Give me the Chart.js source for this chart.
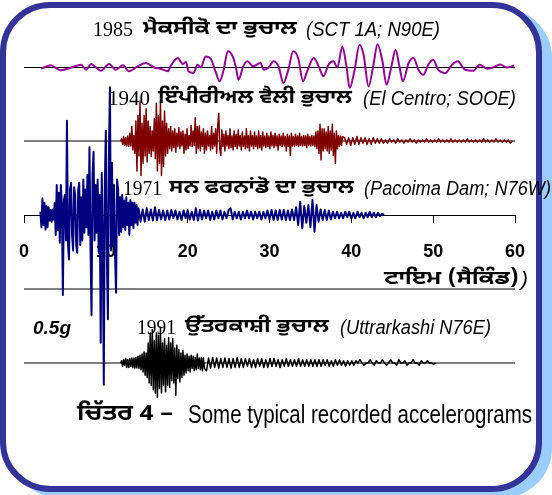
<!DOCTYPE html>
<html>
<head>
<meta charset="utf-8">
<script src="https://cdn.jsdelivr.net/npm/chart.js@4.4.1/dist/chart.umd.min.js"></script>
<style>
html, body { margin: 0; padding: 0; background: #fff; }
#wrap { position: relative; width: 552px; height: 495px; overflow: hidden; background: #fff; }
#frame { position: absolute; left: 0; top: 2px; width: 530px; height: 478px; border: 6px solid #333399;
  border-radius: 50px; box-shadow: 10px 6px 0 #99ccff; background: #fff; }
#myChart { position: absolute; left: 0; top: 0; }
.t { position: absolute; white-space: nowrap; transform-origin: 0 0; color: #000; line-height: 1; }
.num { font-family: "Liberation Serif", "Times New Roman", serif; }
.gur { font-family: "Noto Sans Gurmukhi", "Lohit Gurmukhi", "Raavi", sans-serif; font-weight: bold; }
.lat { font-family: "Liberation Sans", Arial, sans-serif; font-style: italic; }
.cap { font-family: "Liberation Sans", Arial, sans-serif; }
.scale { font-family: "Liberation Sans", Arial, sans-serif; font-style: italic; font-weight: bold; }
</style>
</head>
<body>
<div id="wrap">
  <div id="frame"></div>
  <canvas id="myChart" width="552" height="495"></canvas>

  <div class="t num" style="left:93px;top:19px;font-size:20px" data-w="40">1985</div>
  <div class="t gur" style="left:143px;top:20px;font-size:19px" data-w="154">ਮੈਕਸੀਕੋ ਦਾ ਭੁਚਾਲ</div>
  <div class="t lat" style="left:306px;top:19px;font-size:20px" data-w="134">(SCT 1A; N90E)</div>

  <div class="t num" style="left:108px;top:88px;font-size:20px" data-w="42">1940</div>
  <div class="t gur" style="left:158px;top:89px;font-size:19px" data-w="194">ਇੰਪੀਰੀਅਲ ਵੈਲੀ ਭੁਚਾਲ</div>
  <div class="t lat" style="left:363px;top:88px;font-size:20px" data-w="153">(El Centro; SOOE)</div>

  <div class="t num" style="left:123px;top:178px;font-size:20px" data-w="39">1971</div>
  <div class="t gur" style="left:169px;top:179px;font-size:19px" data-w="185">ਸਨ ਫਰਨਾਂਡੋ ਦਾ ਭੁਚਾਲ</div>
  <div class="t lat" style="left:364px;top:178px;font-size:20px" data-w="187">(Pacoima Dam; N76W)</div>

  <div class="t gur" style="left:384px;top:270px;font-size:19px" data-w="135">ਟਾਇਮ (ਸੈਕਿੰਡ)</div>
  <div class="t lat" style="left:521px;top:269px;font-size:20px" data-w="7">)</div>

  <div class="t scale" style="left:33px;top:319px;font-size:18px" data-w="38">0.5g</div>

  <div class="t num" style="left:137px;top:317px;font-size:20px" data-w="39">1991</div>
  <div class="t gur" style="left:185px;top:318px;font-size:19px" data-w="144">ਉੱਤਰਕਾਸ਼ੀ ਭੁਚਾਲ</div>
  <div class="t lat" style="left:340px;top:317px;font-size:20px" data-w="151">(Uttrarkashi N76E)</div>

  <div class="t gur" style="left:77px;top:404px;font-size:22px" data-w="96">ਚਿੱਤਰ 4 –</div>
  <div class="t cap" style="left:188px;top:402px;font-size:25px" data-w="344">Some typical recorded accelerograms</div>
</div>
<script>
// values: acceleration in g, time in seconds
const mexicoTime = [2.1, 3.3, 3.9, 4.5, 5.7, 7.0, 7.6, 8.2, 8.8, 9.4,
  10.4, 11.2, 12.1, 12.8, 13.9, 14.9, 15.9, 16.7, 17.6, 17.9,
  18.8, 19.4, 19.8, 20.1, 20.7, 21.2, 21.6, 22.2, 22.8, 23.4,
  23.9, 24.4, 24.9, 25.5, 25.9, 26.2, 26.8, 27.3, 28.0, 28.9,
  29.3, 29.9, 30.5, 31.1, 31.7, 32.3, 32.9, 33.5, 34.1, 34.6,
  35.4, 36.0, 36.6, 37.2, 37.8, 38.3, 38.9, 39.4, 39.8, 40.4,
  41.0, 41.5, 42.1, 42.7, 43.2, 43.8, 44.3, 44.9, 45.4, 45.9,
  46.3, 47.0, 47.6, 48.2, 48.8, 49.4, 50.0, 50.6, 51.5, 52.3,
  53.0, 53.9, 54.9, 55.7, 56.6, 57.3, 58.2, 59.0, 59.9];
const mexicoAccel = [-0.01, 0.02, -0.005, -0.025, -0.002, 0.025, -0.02, 0.032, 0, -0.029,
  0.032, -0.02, 0.02, -0.034, 0.011, 0.041, 0, -0.011, -0.034, 0.011,
  0.086, 0.032, 0.05, -0.034, -0.05, 0.025, 0, 0.10, 0.081, -0.034,
  -0.124, -0.02, 0.146, 0.10, 0, -0.11, 0.011, 0.056, 0.011, 0.041,
  -0.02, 0, 0.056, 0.011, -0.14, -0.02, 0.146, 0.086, -0.124, -0.034,
  0.086, 0.011, -0.079, 0.025, 0.056, 0, 0.19, 0.011, -0.185, -0.02,
  0.205, 0.115, -0.17, 0.025, 0.21, 0.056, -0.155, 0.011, 0.16, 0,
  -0.124, 0.041, 0.086, -0.02, -0.065, 0.025, 0.07, -0.02, -0.05, 0.025,
  0.056, -0.02, -0.029, 0.025, -0.011, 0, 0.027, 0, 0.018];

// the other records: busy parts read every 0.125 s, quiet parts every 0.25 s
const elCentroStrongStart = 11.8, elCentroStrongStep = 0.125;
const elCentroStrong = [0, 0.02, -0.03, 0.04, -0.04, 0.03, -0.045, 0.045, -0.05, 0.07,
  -0.045, 0.13, -0.08, 0.05, -0.11, 0.18, -0.27, 0.23, -0.135, 0.36,
  -0.31, 0.16, -0.2, 0.23, -0.135, 0.29, -0.19, 0.18, -0.11, 0.13,
  -0.14, 0.09, -0.09, 0.2, -0.16, 0.34, -0.27, 0.23, -0.2, 0.36,
  -0.31, 0.18, -0.23, 0.27, -0.135, 0.16, -0.11, 0.11, -0.07, 0.13,
  -0.09, 0.09, -0.06, 0.11, -0.1, 0.07, -0.05, 0.12, -0.07, 0.08,
  -0.045, 0.09, -0.11, 0.06, -0.08, 0.11, -0.07, 0.05, -0.045, 0.14,
  -0.05, 0.09, -0.04, 0.21, -0.11, 0.13, -0.07, 0.135, -0.09, 0.08,
  -0.05, 0.11, -0.11, 0.07, -0.08, 0.09, -0.045, 0.05, -0.08, 0.13,
  -0.07, 0.07, -0.045, 0.11, -0.11, 0.135, 0.25, -0.07, -0.13];
const elCentroMidStart = 24.175, elCentroMidStep = 0.125;
const elCentroMid = [0.1, -0.05, 0.06, -0.09, 0.09, -0.045, 0.05, -0.07, 0.11, -0.06,
  0.045, -0.08, 0.09, -0.05, 0.06, -0.07, 0.1, -0.045, 0.05, -0.08,
  0.08, -0.05, 0.045, -0.07, 0.11, -0.06, 0.05, -0.09, 0.09, -0.045,
  0.05, -0.07, 0.08, -0.05, 0.045, -0.07, 0.09, -0.06, 0.05, -0.08,
  0.08, -0.045, 0.045, -0.06, 0.07, -0.05, 0.045, -0.07, 0.08, -0.045,
  0.05, -0.06, 0.07, -0.045, 0.045, -0.08, 0.06, -0.04, 0.045, -0.05,
  0.07, -0.045, 0.04, -0.09, 0.06, -0.05, 0.045, -0.13, 0.07, -0.045,
  0.04, -0.05, 0.06, -0.04, 0.045, -0.05, 0.07, -0.04, 0.04, -0.045,
  0.05, -0.04, 0.045, -0.06, 0.06, -0.04, 0.04, -0.045, 0.05, -0.04,
  0.045, -0.05, 0.08, -0.07, 0.09, -0.11, 0.15, -0.17, 0.11, -0.09,
  0.11, -0.07, 0.08, -0.09, 0.13, -0.11, 0.09, -0.08, 0.15, -0.13,
  0.07, -0.2, 0.09, -0.07, 0.05, -0.05, 0.045, -0.04, 0.04];
const elCentroTailStart = 39.175, elCentroTailStep = 0.25;
const elCentroTail = [0.03, -0.03, 0.03, -0.04, 0.03, -0.03, 0.04, -0.03, 0.03, -0.02,
  0.03, -0.03, 0.02, -0.03, 0.03, -0.02, 0.02, -0.02, 0.02, -0.02,
  0.01, -0.02, 0.02, -0.01, 0.01, -0.02, 0.02, -0.01, 0.01, -0.02,
  0.01, -0.01, 0.02, -0.01, 0.01, -0.02, 0.01, -0.01, 0.01, -0.01,
  0.02, -0.01, 0.01, -0.01, 0.01, -0.01, 0.02, -0.01, 0.01, -0.01,
  0.01, -0.01, 0.02, -0.01, 0.01, -0.01, 0.01, -0.01, 0.01, -0.01,
  0.02, -0.01, 0.01, -0.01, 0.01, -0.01, 0.01, -0.01, 0.02, -0.01,
  0.01, -0.01, 0.01, -0.01, 0.02, -0.01, 0.01, -0.01, 0.01, -0.01,
  0.01, -0.02, 0];

const pacoimaStrongStart = 2.0, pacoimaStrongStep = 0.125;
const pacoimaStrong = [0.03, -0.11, 0.15, -0.09, 0.11, -0.13, 0.08, -0.11, 0.07, -0.05,
  0.045, -0.06, 0.05, -0.04, 0.11, -0.18, 0.27, -0.135, 0.2, -0.25,
  0.27, 0.1, -0.72, 0.135, 0.18, -0.23, 0.85, -0.27, -0.4, 0.23,
  0.29, -0.18, -0.32, 0.25, 0.18, -0.27, -0.34, 0.23, 0.29, -0.27,
  0.16, -0.23, 0.32, -0.16, 0.23, -0.11, 0.36, -0.18, 0.61, -0.27,
  -0.9, 0.36, 0.57, -0.23, 0.27, -0.16, 0.32, -0.34, 0.18, -1.15,
  0.38, -0.18, -1.53, 0.27, 0.76, -0.36, -0.94, 0.54, 1.15, -0.32,
  0.47, -0.27, 0.27, -0.36, -0.7, 0.32, 0.23, -0.18, 0.16, -0.15,
  0.18, -0.11, 0.13, -0.135, 0.16, -0.09, 0.11, -0.18, 0.135, -0.09,
  0.11, -0.12, 0.11, -0.07, 0.09, -0.09];
const pacoimaCodaStart = 14.0, pacoimaCodaStep = 0.25;
const pacoimaCoda = [0.06, -0.06,
  0.05, -0.06, 0.06, -0.045, 0.05, -0.05, 0.07, -0.045, 0.045, -0.04,
  0.04, -0.045, 0.04, -0.04, 0.045, -0.03, 0.04, -0.04, 0.03, -0.045,
  0.04, -0.03, 0.045, -0.04, 0.03, -0.045, 0.06, -0.05, 0.045, -0.04,
  0.04, -0.03, 0.04, -0.045, 0.03, -0.04, 0.04, -0.03, 0.04, -0.04,
  0.03, -0.03, 0.045, 0.06, -0.04, 0.03, -0.03, 0.03, -0.04, 0.03,
  -0.03, 0.04, -0.03, 0.03, -0.04, 0.03, -0.03, 0.03, -0.04, 0.03,
  -0.03, 0.04, -0.04, 0.045, -0.045, 0.04, -0.045, 0.045, -0.04, 0.045,
  -0.045, 0.04, -0.045, 0.05, -0.045, 0.07, -0.09, 0.12, -0.12, 0.08,
  -0.07, 0.09, -0.11, 0.135, -0.15, 0.09, -0.06, 0.05, -0.045, 0.045,
  -0.045, 0.04, -0.04, 0.03, -0.03, 0.03, -0.03, 0.02, -0.03, 0.03,
  -0.02, 0.03, -0.03, 0.02, -0.03, 0.03, -0.02, 0.02, -0.03, 0.02,
  -0.02, 0.03, -0.02, 0.02, -0.02, 0.02, -0.01, 0.01, 0];

const uttarkashiStrongStart = 11.8, uttarkashiStrongStep = 0.125;
const uttarkashiStrong = [0, 0.02, -0.03, 0.03, -0.02, 0.04, -0.04, 0.03, -0.04, 0.04,
  -0.03, 0.045, -0.04, 0.045, -0.045, 0.05, -0.045, 0.06, -0.05, 0.07,
  -0.06, 0.08, -0.08, 0.1, -0.11, 0.09, -0.13, 0.18, -0.18, 0.27,
  -0.2, 0.3, -0.24, 0.2, -0.27, 0.27, -0.31, 0.25, -0.23, 0.32,
  -0.27, 0.18, -0.2, 0.22, -0.26, 0.16, -0.2, 0.23, -0.22, 0.18,
  -0.16, 0.22, -0.18, 0.135, -0.29, 0.16, -0.14, 0.12, -0.17, 0.09,
  -0.13, 0.11, -0.11, 0.07, -0.09, 0.08, -0.07, 0.06, -0.08, 0.07,
  -0.05, 0.06, -0.07, 0.05, -0.06, 0.08, -0.05, 0.045, -0.06, 0.05,
  -0.07, 0.045, -0.05];
const uttarkashiCodaStart = 22.3, uttarkashiCodaStep = 0.25;
const uttarkashiCoda = [-0.07, 0.045, -0.045, 0.05, -0.04, 0.045, -0.045, 0.04,
  -0.04, 0.045, -0.04, 0.04, -0.045, 0.04, -0.04, 0.05, -0.04, 0.04,
  -0.04, 0.04, -0.03, 0.04, -0.04, 0.03, -0.04, 0.04, -0.03, 0.04,
  -0.04, 0.03, -0.04, 0.04, -0.03, 0.04, -0.03, 0.03, -0.04, 0.03,
  -0.03, 0.04, -0.03, 0.03, -0.03, 0.03, -0.03, 0.04, -0.03, 0.03,
  -0.03, 0.03, -0.03, 0.03, -0.03, 0.03, -0.03, 0.03, -0.03, 0.03,
  -0.02, 0.03, -0.03, 0.02, -0.03, 0.03, -0.02, 0.03, -0.02, 0.02,
  -0.03, 0.02, -0.02, 0.02, -0.02, 0.02, 0, 0.03, 0, -0.02,
  0, 0, 0.03, 0, -0.02, 0.02, 0, 0, 0.03, 0,
  -0.02, 0, 0.03, 0, 0, -0.02, 0.03, 0, 0, 0.02,
  -0.02, 0, 0, 0.03, 0, 0, -0.02, 0.02, 0, 0,
  0.02, 0, 0, -0.01, 0];

const timeRange = [0, 60];

// --- build the chart ---
function sampled(start, step, values) {
  return values.map((v, i) => ({ x: start + i * step, y: v }));
}
const baseline = [{ x: timeRange[0], y: 0 }, { x: timeRange[1], y: 0 }];

// every record gets its own hidden y axis, same g scale, stacked down the page
const PX_PER_G = 111, H = 495;
function band(basePx) {
  return { display: false, min: -(H - basePx) / PX_PER_G, max: basePx / PX_PER_G };
}

function trace(data, color, width, axis) {
  return { data: data, borderColor: color, borderWidth: width, yAxisID: axis,
    pointRadius: 0, tension: 0, borderJoinStyle: 'round', fill: false };
}

const mexico = trace(mexicoTime.map((t, i) => ({ x: t, y: mexicoAccel[i] })), '#990099', 2, 'yMex');
mexico.cubicInterpolationMode = 'monotone';

const pacoima = sampled(pacoimaStrongStart, pacoimaStrongStep, pacoimaStrong)
  .concat(sampled(pacoimaCodaStart, pacoimaCodaStep, pacoimaCoda));
const uttarkashi = sampled(uttarkashiStrongStart, uttarkashiStrongStep, uttarkashiStrong)
  .concat(sampled(uttarkashiCodaStart, uttarkashiCodaStep, uttarkashiCoda));
const elCentro = sampled(elCentroStrongStart, elCentroStrongStep, elCentroStrong)
  .concat(sampled(elCentroMidStart, elCentroMidStep, elCentroMid))
  .concat(sampled(elCentroTailStart, elCentroTailStep, elCentroTail));

const ctx = document.getElementById('myChart');
new Chart(ctx, {
  type: 'line',
  data: {
    datasets: [
      trace(pacoima, '#000080', 2, 'yPac'),
      trace(uttarkashi, '#000000', 1.5, 'yUtt'),
      trace(elCentro, '#800000', 1.5, 'yElc'),
      mexico,
      trace(baseline, '#000000', 1, 'yMex'),
      trace(baseline, '#000000', 1, 'yElc'),
      trace(baseline, '#000000', 1, 'yGap'),
      trace(baseline, '#000000', 1, 'yUtt')
    ]
  },
  options: {
    responsive: false,
    animation: false,
    events: [],
    layout: { padding: { left: 23, right: 37, top: 0, bottom: 0 } },
    plugins: { legend: { display: false }, tooltip: { enabled: false } },
    scales: {
      x: {
        type: 'linear',
        min: timeRange[0],
        max: timeRange[1],
        position: { yPac: 0 },
        border: { display: true, color: '#000', width: 1 },
        grid: { drawOnChartArea: false, drawTicks: true, tickLength: 7, color: '#000' },
        ticks: {
          stepSize: 10,
          color: '#000',
          padding: 19,
          maxRotation: 0,
          autoSkip: false,
          font: { family: '"Liberation Sans", Arial, sans-serif', size: 18, weight: 'bold' }
        }
      },
      yMex: band(67.5),
      yElc: band(141),
      yPac: band(215),
      yGap: band(289),
      yUtt: band(363)
    }
  }
});

// squeeze each text piece to the width it has in the figure
document.querySelectorAll('.t').forEach(el => {
  const w = parseFloat(el.dataset.w);
  const natural = el.getBoundingClientRect().width;
  if (w && natural) el.style.transform = 'scaleX(' + (w / natural) + ')';
});
</script>
</body>
</html>
